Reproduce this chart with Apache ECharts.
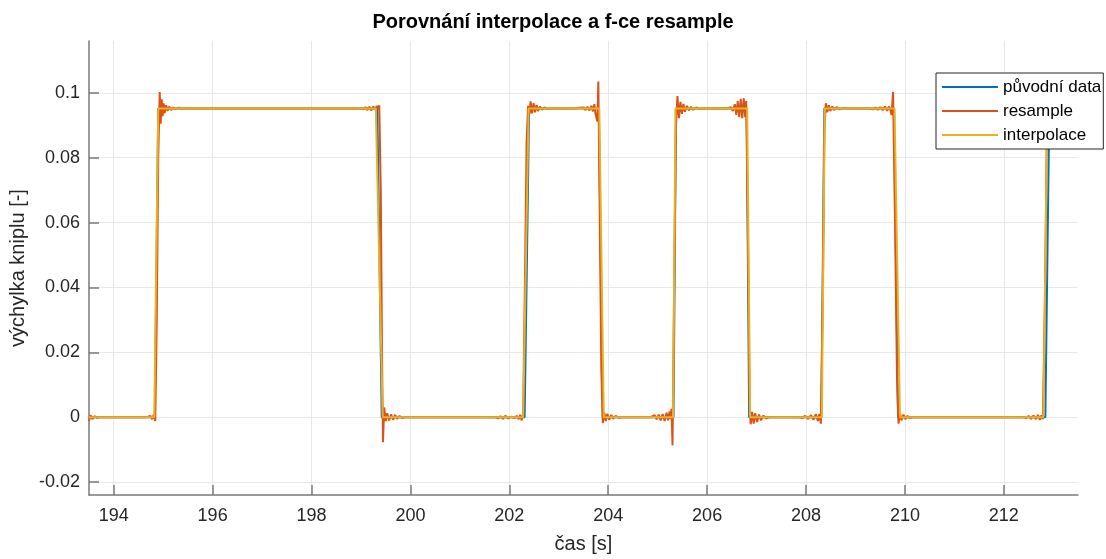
<!DOCTYPE html>
<html>
<head>
<meta charset="utf-8">
<script src="https://cdn.jsdelivr.net/npm/echarts@6/dist/echarts.min.js"></script>
<style>html,body{margin:0;padding:0;background:#fff}#c{width:1106px;height:559px}</style>
</head>
<body>
<div id="c"></div>
<script>
// ---- data (time [s], value [-]) ----
const xTicks = [194, 196, 198, 200, 202, 204, 206, 208, 210, 212];
const yTicks = [-0.02, 0, 0.02, 0.04, 0.06, 0.08, 0.1];
const seriesNames = ['původní data', 'resample', 'interpolace'];

const puvodni = [
  [193.5,0],[194.83,0],[194.90,0.0952],[199.33,0.0952],[199.42,0],
  [202.31,0],[202.40,0.0952],[203.81,0.0952],[203.89,0],
  [205.32,0],[205.37,0.0952],[206.80,0.0952],[206.85,0],
  [208.31,0],[208.37,0.0952],[209.78,0.0952],[209.86,0],
  [212.84,0],[212.92,0.0952],[213.5,0.0952]
];

const interpolace = [
  [193.5,0],[194.82,0],[194.90,0.0952],[199.30,0.0952],[199.44,0],
  [202.28,0],[202.39,0.0952],[203.82,0.0952],[203.91,0],
  [205.31,0],[205.36,0.0952],[206.81,0.0952],[206.87,0],
  [208.32,0],[208.38,0.0952],[209.79,0.0952],[209.90,0],
  [212.80,0],[212.88,0.0952],[213.5,0.0952]
];

const resample = [
  [193.50,-0.0012],[193.53,0.0006],[193.57,-0.0006],[193.61,0.0003],[193.66,-0.0002],[193.72,0],
  [194.66,0],[194.70,-0.0003],[194.74,0.0004],[194.78,-0.0006],[194.81,0.0008],[194.84,-0.0012],
  [194.87,0.030],[194.90,0.080],[194.93,0.1003],[194.95,0.0905],[194.97,0.0980],[194.99,0.0928],
  [195.01,0.0968],[195.03,0.0938],[195.06,0.0962],[195.09,0.0944],[195.12,0.0958],[195.16,0.0947],
  [195.20,0.0955],[195.25,0.0950],[195.31,0.0954],[195.37,0.0951],[195.45,0.0952],
  [199.00,0.0952],[199.05,0.0949],[199.09,0.0956],[199.13,0.0947],[199.17,0.0957],[199.21,0.0946],
  [199.25,0.0958],[199.29,0.0948],[199.32,0.0960],[199.35,0.0950],[199.37,0.0962],
  [199.40,0.070],[199.425,0.020],[199.445,-0.0077],[199.47,0.0030],[199.50,-0.0012],[199.53,0.0012],
  [199.57,-0.0010],[199.61,0.0009],[199.65,-0.0008],[199.69,0.0007],[199.73,-0.0005],[199.78,0.0004],
  [199.83,-0.0003],[199.90,0],
  [201.72,0],[201.77,-0.0004],[201.82,0.0003],[201.87,-0.0005],[201.92,0.0004],[201.98,-0.0004],
  [202.04,0.0002],[202.10,-0.0003],[202.15,0.0004],[202.19,-0.0006],[202.22,0.0007],[202.25,-0.0010],
  [202.28,0.0012],
  [202.31,0.035],[202.35,0.085],[202.38,0.0960],[202.41,0.0935],[202.43,0.0974],[202.46,0.0937],
  [202.49,0.0968],[202.52,0.0940],[202.55,0.0963],[202.58,0.0944],[202.62,0.0958],[202.66,0.0948],
  [202.71,0.0955],[202.77,0.0950],[202.85,0.0952],
  [203.34,0.0952],[203.38,0.0949],[203.42,0.0954],[203.46,0.0948],[203.50,0.0955],[203.54,0.0947],
  [203.58,0.0957],[203.62,0.0946],[203.66,0.0960],[203.69,0.0943],[203.72,0.0965],[203.74,0.0938],
  [203.76,0.0925],[203.78,0.0912],[203.80,0.1035],
  [203.83,0.060],[203.86,0.015],[203.89,-0.0018],[203.92,0.0014],[203.95,-0.0012],[203.98,0.0010],
  [204.02,-0.0008],[204.06,0.0007],[204.10,-0.0005],[204.15,0.0004],[204.21,-0.0002],[204.28,0],
  [204.86,0],[204.90,-0.0004],[204.94,0.0006],[204.98,-0.0007],[205.02,0.0008],[205.06,-0.0010],
  [205.10,0.0010],[205.14,-0.0012],[205.18,0.0014],[205.21,-0.0010],[205.24,0.0018],[205.26,-0.0005],
  [205.28,0.0026],[205.30,-0.0087],
  [205.34,0.050],[205.37,0.090],[205.40,0.0990],[205.43,0.0922],[205.46,0.0972],[205.49,0.0935],
  [205.52,0.0966],[205.55,0.0942],[205.59,0.0960],[205.63,0.0946],[205.67,0.0957],[205.72,0.0948],
  [205.78,0.0955],[205.85,0.0950],[205.92,0.0952],
  [206.40,0.0952],[206.44,0.0949],[206.48,0.0956],[206.52,0.0944],[206.56,0.0965],[206.59,0.0932],
  [206.62,0.0975],[206.65,0.0925],[206.68,0.0982],[206.71,0.0922],[206.74,0.0983],[206.77,0.0925],
  [206.79,0.0975],
  [206.83,0.050],[206.86,0.004],[206.88,-0.0022],[206.91,0.0016],[206.94,-0.0020],[206.97,0.0012],
  [207.01,-0.0015],[207.05,0.0008],[207.09,-0.0010],[207.14,0.0005],[207.19,-0.0004],[207.26,0],
  [207.86,0],[207.92,-0.0003],[207.98,0.0004],[208.04,-0.0005],[208.10,0.0006],[208.15,-0.0008],
  [208.20,0.0009],[208.24,-0.0012],[208.27,0.0010],[208.30,-0.0020],
  [208.34,0.040],[208.37,0.088],[208.40,0.0968],[208.43,0.0940],[208.46,0.0962],[208.49,0.0944],
  [208.53,0.0958],[208.57,0.0947],[208.62,0.0956],[208.68,0.0949],[208.75,0.0953],[208.83,0.0952],
  [209.30,0.0952],[209.35,0.0949],[209.40,0.0955],[209.45,0.0948],[209.50,0.0956],[209.55,0.0947],
  [209.60,0.0958],[209.64,0.0945],[209.68,0.0958],[209.71,0.0944],[209.73,0.0932],[209.76,0.1003],
  [209.80,0.060],[209.84,0.012],[209.87,-0.0020],[209.90,0.0012],[209.93,-0.0010],[209.97,0.0008],
  [210.01,-0.0006],[210.05,0.0004],[210.10,-0.0003],[210.16,0],
  [212.40,0],[212.45,-0.0003],[212.50,0.0004],[212.55,-0.0005],[212.60,0.0005],[212.65,-0.0006],
  [212.69,0.0007],[212.73,-0.0008],[212.76,0.0006],[212.79,-0.0006],
  [212.83,0.035],[212.87,0.088],[212.90,0.0985],[212.93,0.0930],[212.96,0.0970],[212.99,0.0938],
  [213.03,0.0962],[213.07,0.0945],[213.12,0.0957],[213.18,0.0949],[213.25,0.0954],[213.33,0.0951],
  [213.50,0.0952]
];

const colors = ['#0072BD', '#D95319', '#EDB120'];
const FONT = 'Liberation Sans, Arial, Helvetica, sans-serif';

const chart = echarts.init(document.getElementById('c'), null, {renderer: 'canvas'});
const axisCommon = {
  axisLine: {show: true, onZero: false, lineStyle: {color: '#7a7a7a', width: 1.5}},
  axisTick: {show: true, inside: true, length: 10, lineStyle: {color: '#7a7a7a', width: 1.5}},
  splitLine: {show: true, lineStyle: {color: '#e8e8e8', width: 1}},
  nameTextStyle: {fontFamily: FONT, fontSize: 20, color: '#262626'}
};
chart.setOption({
  animation: false,
  backgroundColor: '#ffffff',
  title: {
    text: 'Porovnání interpolace a f-ce resample',
    left: 'center', top: 12, padding: 0,
    textStyle: {fontFamily: FONT, fontSize: 20, fontWeight: 'bold', color: '#000'}
  },
  grid: {left: 89, right: 28, top: 41, bottom: 59, containLabel: false},
  legend: {
    z: 20, zlevel: 0,
    orient: 'vertical',
    left: 936, top: 73,
    padding: [4, 2, 4, 6],
    itemGap: 4,
    itemWidth: 56, itemHeight: 2,
    icon: 'rect',
    backgroundColor: '#fff',
    borderColor: '#262626', borderWidth: 1,
    textStyle: {fontFamily: FONT, fontSize: 17, color: '#000', lineHeight: 20, padding: [0, 0, 0, 0]},
    data: seriesNames
  },
  xAxis: Object.assign({}, axisCommon, {
    type: 'value', min: 193.5, max: 213.5,
    name: 'čas [s]', nameLocation: 'middle', nameGap: 39,
    axisTick: Object.assign({}, axisCommon.axisTick, {customValues: xTicks}),
    axisLabel: {customValues: xTicks, margin: 12, fontFamily: FONT, fontSize: 18, color: '#262626'}
  }),
  yAxis: Object.assign({}, axisCommon, {
    type: 'value', min: -0.024, max: 0.116,
    name: 'výchylka kniplu [-]', nameLocation: 'middle', nameGap: 52,
    axisTick: Object.assign({}, axisCommon.axisTick, {customValues: yTicks}),
    axisLabel: {customValues: yTicks, margin: 9, fontFamily: FONT, fontSize: 18, color: '#262626',
      formatter: v => String(Math.round(v * 100) / 100)}
  }),
  series: [
    {name: seriesNames[0], type: 'line', data: puvodni, showSymbol: false, symbol: 'none',
     color: colors[0], lineStyle: {width: 2, color: colors[0]}, z: 2},
    {name: seriesNames[1], type: 'line', data: resample, showSymbol: false, symbol: 'none',
     color: colors[1], lineStyle: {width: 2, color: colors[1]}, z: 2},
    {name: seriesNames[2], type: 'line', data: interpolace, showSymbol: false, symbol: 'none',
     color: colors[2], lineStyle: {width: 2, color: colors[2]}, z: 2}
  ]
});
</script>
</body>
</html>
